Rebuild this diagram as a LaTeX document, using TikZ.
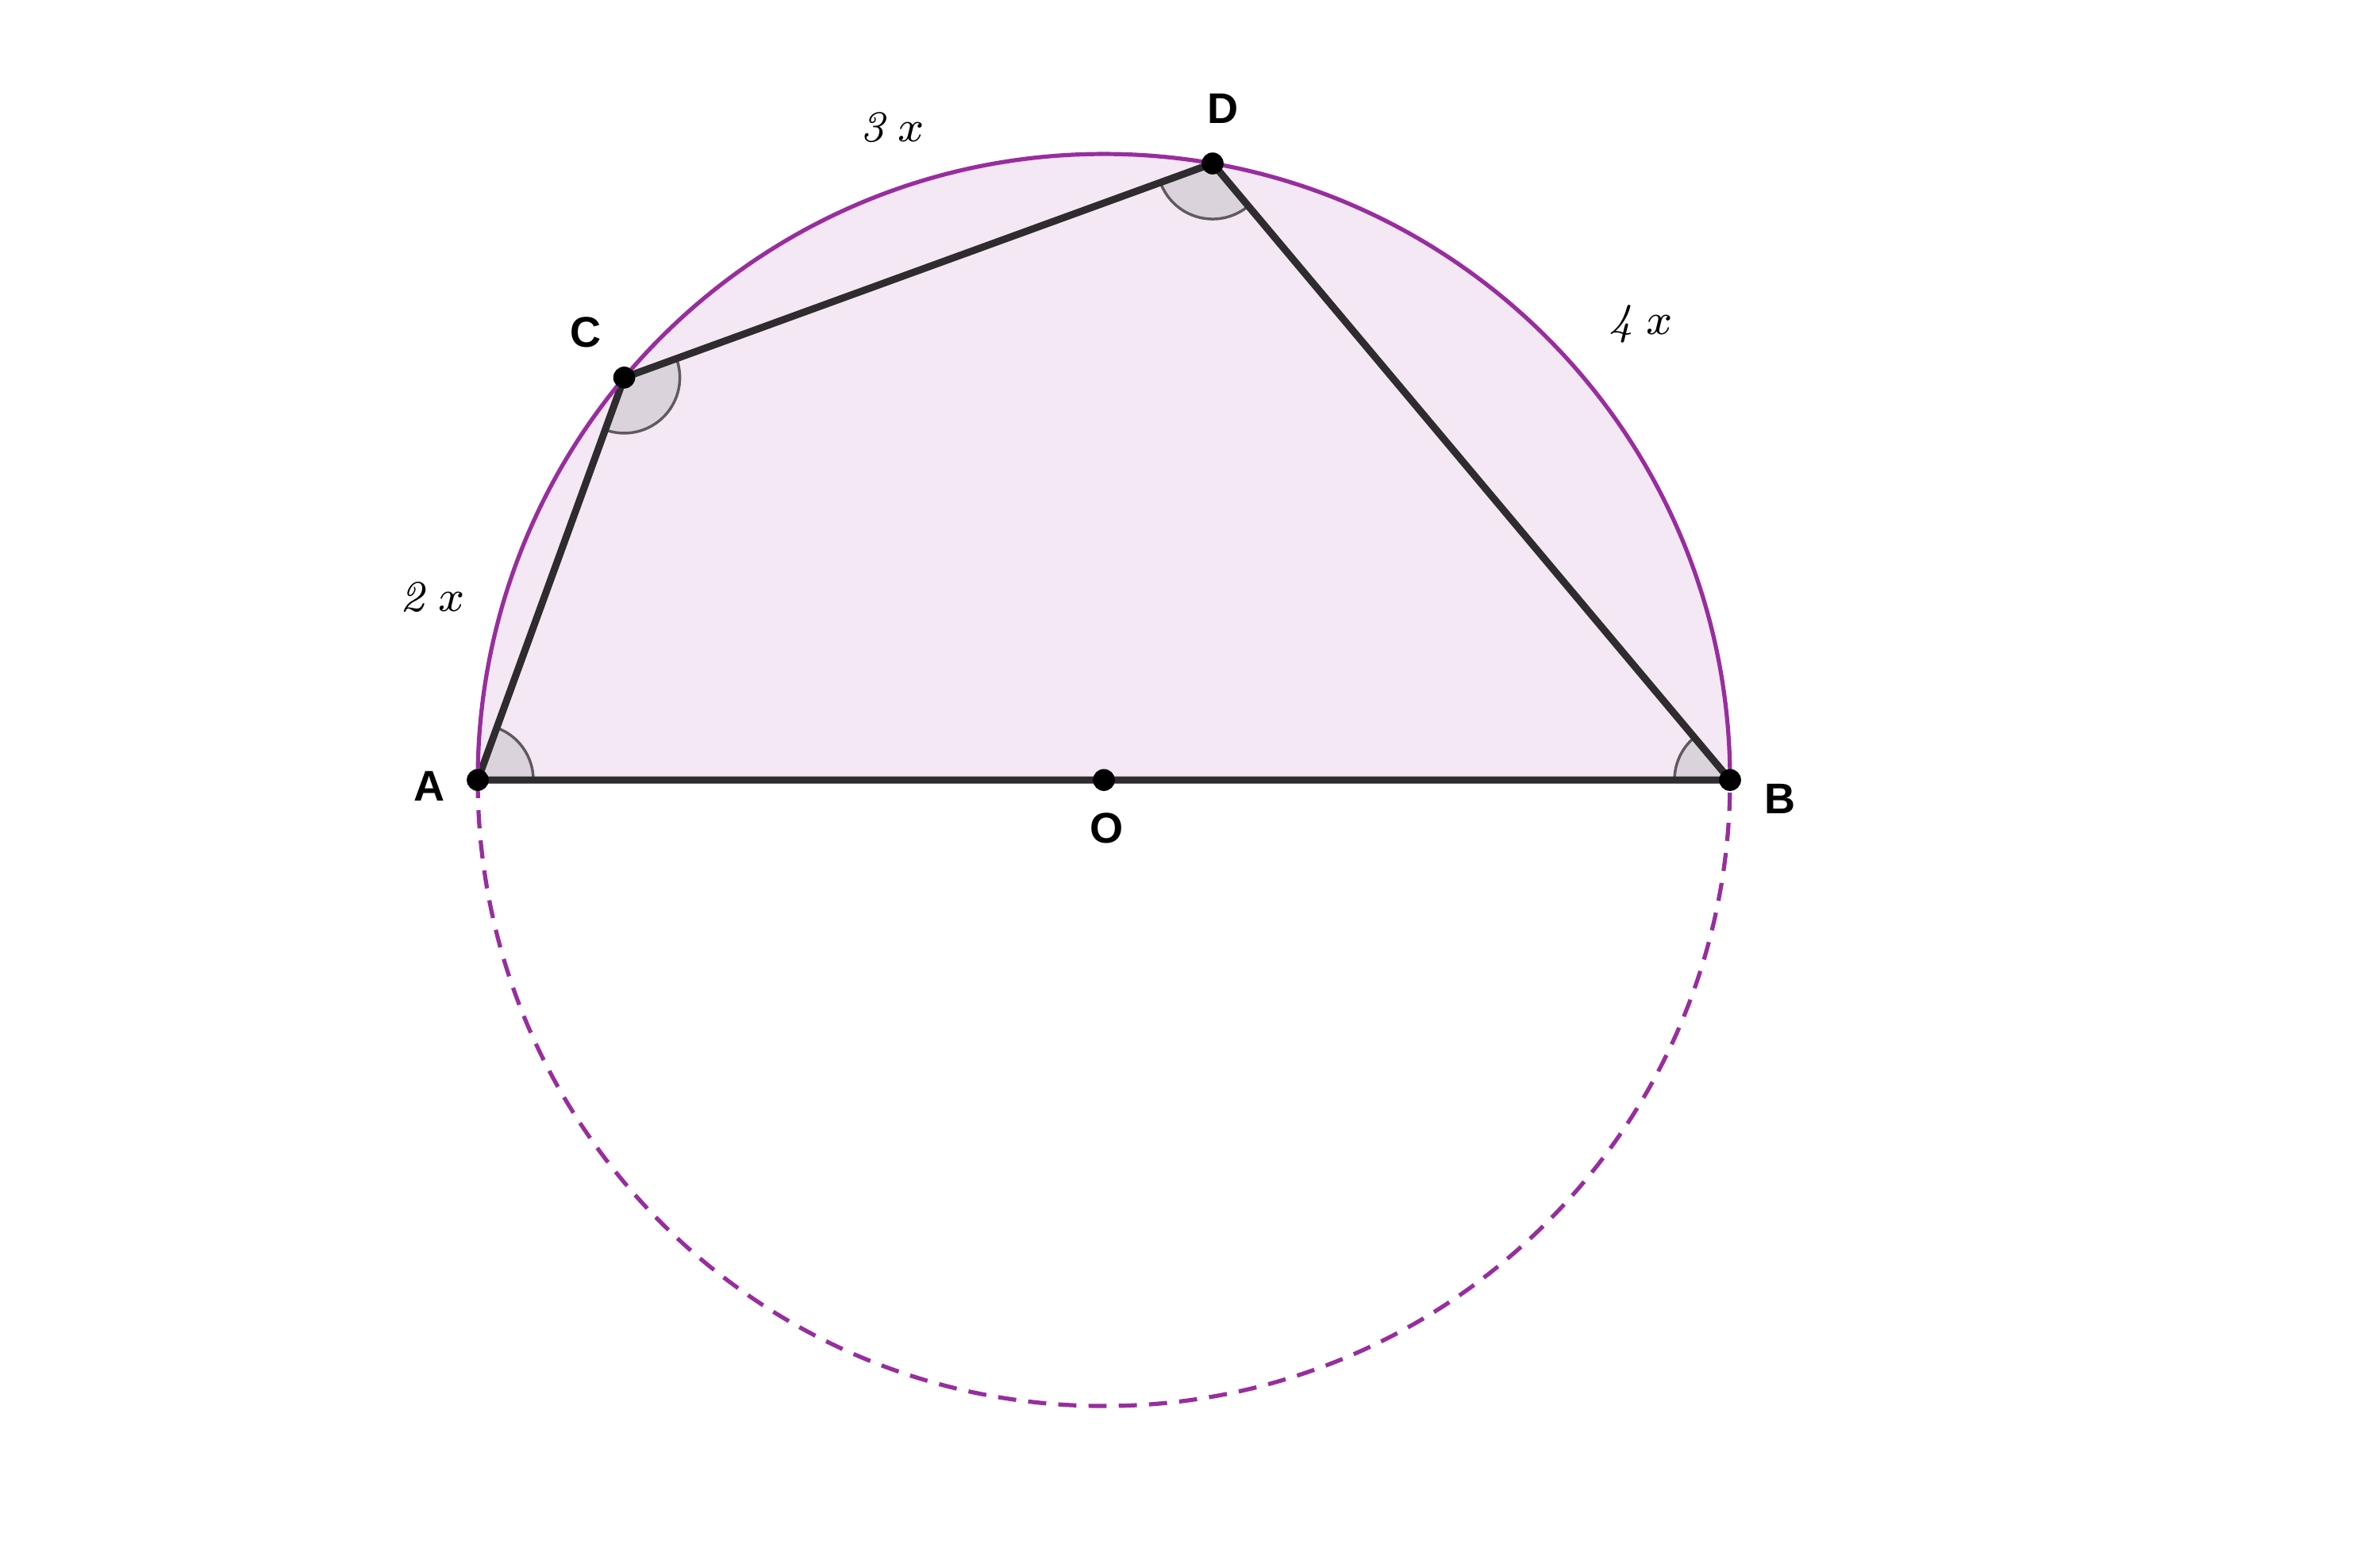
\documentclass[tikz,border=0pt]{standalone}
\usepackage[no-math]{fontspec}
\setmainfont{Liberation Sans}
\definecolor{circpurple}{RGB}{152,45,158}
\definecolor{semifill}{RGB}{244,232,245}
\definecolor{angfill}{RGB}{219,211,220}
\definecolor{anggray}{RGB}{95,90,96}
\definecolor{segdark}{RGB}{47,44,48}
\begin{document}
\begin{tikzpicture}[line join=round,
  pt/.style={circle,fill=black,minimum size=.14cm,inner sep=0pt},
  seg/.style={draw=segdark,line width=1.3pt},
  circ/.style={draw=circpurple,line width=.75pt},
  lbl/.style={font=\fontsize{7.8}{9}\selectfont\bfseries},
  arclbl/.style={font=\fontsize{8.3}{10}\selectfont}]
\useasboundingbox (-7.052,-4.877) rectangle (8.152,4.984);
\coordinate (O) at (0,0);
\coordinate (A) at (180:4);
\coordinate (C) at (140:4);
\coordinate (D) at (80:4);
\coordinate (B) at (0:4);
% upper half disc
\fill[semifill] (B) arc (0:180:4) -- cycle;
% angle marks
\foreach \p/\a/\b in {A/0/70, C/-110/20, D/200/310, B/130/180} {
  \fill[angfill] (\p) -- ++(\a:.355) arc (\a:\b:.355) -- cycle;
  \draw[anggray,line width=.5pt] (\p) ++(\a:.355) arc (\a:\b:.355);
}
\draw[seg] (A) -- (C) -- (D) -- (B) -- cycle;
\draw[circ] (B) arc (0:180:4);
\draw[circ,dash pattern=on 3.3pt off 2.2pt] (A) arc (180:360:4);
\node[pt] (dA) at (A) {};
\node[pt] (dB) at (B) {};
\node[pt] (dC) at (C) {};
\node[pt] (dD) at (D) {};
\node[pt] (dO) at (O) {};
\begin{scope}[every node/.style={lbl}]
\node (lA) at (-4.31,-0.04) {A};
\node (lB) at (4.32,-0.12) {B};
\node (lC) at (-3.31,2.86) {C};
\node (lD) at (0.76,4.29) {D};
\node (lO) at (0.02,-0.31) {O};
\end{scope}
\begin{scope}[every node/.style={arclbl}]
\node (l2x) at (-4.29,1.166) {$\mathit{2}\,x$};
\node (l3x) at (-1.35,4.167) {$\mathit{3}\,x$};
\node (l4x) at (3.43,2.910) {$\mathit{4}\,x$};
\end{scope}
\end{tikzpicture}
\end{document}
